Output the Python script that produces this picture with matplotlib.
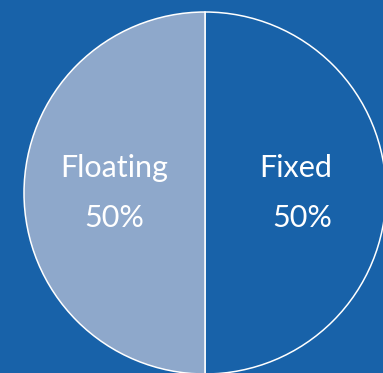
import matplotlib
matplotlib.use("Agg")
import matplotlib.pyplot as plt

categories = ["Fixed", "Floating"]
shares = [50, 50]

bg_color = "#1862a9"
slice_colors = ["#1862a9", "#8ea8cb"]

fig = plt.figure(figsize=(3.83, 3.73), dpi=100, facecolor=bg_color)
ax = fig.add_axes([0, 0, 1, 1])
ax.set_facecolor(bg_color)

labels = [f"{name}\n{share}%" for name, share in zip(categories, shares)]
wedges, texts = ax.pie(
    shares,
    labels=labels,
    colors=slice_colors,
    startangle=90,
    counterclock=False,
    labeldistance=0.5,
    wedgeprops=dict(edgecolor="white", linewidth=1.1),
    textprops=dict(color="white", fontsize=22, family="Lato",
                   ha="center", va="center", linespacing=1.95),
)
# the right label sits flush right in the original
texts[0].set_multialignment("right")

r_px = 181
cx, cy = 205, 193
ax.set_xlim(-cx / r_px, (383 - cx) / r_px)
ax.set_ylim(-(373 - cy) / r_px, cy / r_px)
ax.set_aspect("auto")
ax.axis("off")

fig.savefig("out.png", dpi=100, facecolor=bg_color)
